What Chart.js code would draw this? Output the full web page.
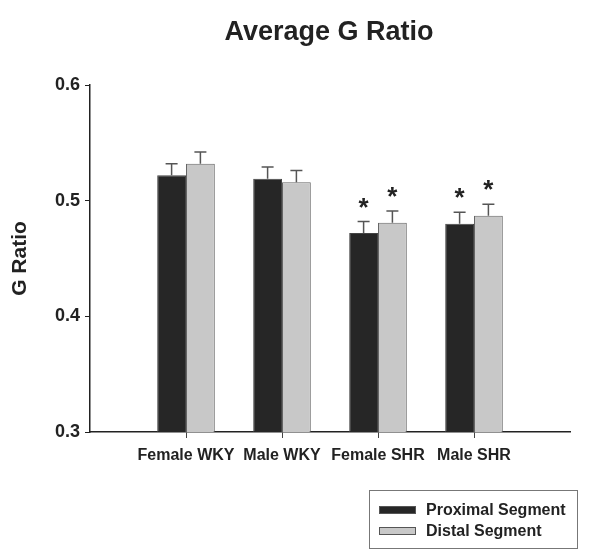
<!DOCTYPE html>
<html>
<head>
<meta charset="utf-8">
<script src="https://cdn.jsdelivr.net/npm/chart.js@4"></script>
<style>
  html, body { margin: 0; padding: 0; background: #fff; }
  #wrap { width: 600px; height: 554px; }
</style>
</head>
<body>
<div id="wrap"><canvas id="gChart" width="600" height="554"></canvas></div>
<script>
// Data
const groups = ["Female WKY", "Male WKY", "Female SHR", "Male SHR"];
const proximal = [0.522, 0.519, 0.472, 0.480];
const distal = [0.532, 0.516, 0.481, 0.487];
const proximalErr = [0.010, 0.010, 0.010, 0.010];
const distalErr = [0.010, 0.010, 0.010, 0.010];
const proximalSig = [false, false, true, true];
const distalSig = [false, false, true, true];
const yTicks = [0.3, 0.4, 0.5, 0.6];

const FONT = "'Liberation Sans', Arial, sans-serif";

// empty slots either side so the groups sit at 1..4 of a 0..5 axis
const labels = ["", ...groups, ""];
const pad = arr => [null, ...arr, null];

// error bars + asterisks + title + legend
const extras = {
  id: "extras",
  afterDatasetsDraw(chart) {
    const c = chart.ctx;
    const y = chart.scales.y;
    const errs = [proximalErr, distalErr];
    const sigs = [proximalSig, distalSig];
    c.save();
    chart.data.datasets.forEach((ds, di) => {
      const meta = chart.getDatasetMeta(di);
      groups.forEach((g, i) => {
        const bar = meta.data[i + 1];
        const val = ds.data[i + 1];
        const top = y.getPixelForValue(val + errs[di][i]);
        c.strokeStyle = "#555";
        c.lineWidth = 1.5;
        c.beginPath();
        c.moveTo(bar.x, bar.y);
        c.lineTo(bar.x, top);
        c.moveTo(bar.x - 6, top);
        c.lineTo(bar.x + 6, top);
        c.stroke();
        if (sigs[di][i]) {
          c.fillStyle = "#222";
          c.font = "bold 26px " + FONT;
          c.textAlign = "center";
          c.textBaseline = "middle";
          c.fillText("*", bar.x, top - 13);
        }
      });
    });
    c.restore();
  },
  afterDraw(chart) {
    const c = chart.ctx;
    c.save();
    c.fillStyle = "#222";
    c.font = "bold 27px " + FONT;
    c.textAlign = "center";
    c.textBaseline = "middle";
    c.fillText("Average G Ratio", 329, 33);

    // legend box
    c.strokeStyle = "#777";
    c.lineWidth = 1;
    c.strokeRect(369.5, 490.5, 208, 58);
    const items = [
      ["Proximal Segment", "#262626", 510],
      ["Distal Segment", "#c8c8c8", 531]
    ];
    c.font = "bold 16px " + FONT;
    c.textAlign = "left";
    items.forEach(([txt, col, yy]) => {
      c.fillStyle = col;
      c.fillRect(379, yy - 4, 37, 8);
      c.strokeStyle = "#555";
      c.strokeRect(379.5, yy - 3.5, 36, 7);
      c.fillStyle = "#222";
      c.fillText(txt, 426, yy + 1);
    });
    c.restore();
  }
};

new Chart(document.getElementById("gChart").getContext("2d"), {
  type: "bar",
  data: {
    labels: labels,
    datasets: [
      {
        label: "Proximal Segment",
        data: pad(proximal),
        backgroundColor: "#262626",
        borderColor: "#444",
        borderWidth: 1,
        categoryPercentage: 0.6,
        barPercentage: 1.0
      },
      {
        label: "Distal Segment",
        data: pad(distal),
        backgroundColor: "#c8c8c8",
        borderColor: "#666",
        borderWidth: 1,
        categoryPercentage: 0.6,
        barPercentage: 1.0
      }
    ]
  },
  options: {
    responsive: false,
    animation: false,
    layout: { padding: { left: 0, right: 30, top: 85, bottom: 82 } },
    plugins: {
      legend: { display: false },
      title: { display: false },
      tooltip: { enabled: false }
    },
    scales: {
      x: {
        type: "category",
        offset: false,
        afterFit(s) { s.height = 40; },
        grid: {
          offset: false,
          drawOnChartArea: false,
          drawTicks: true,
          tickLength: 6,
          color: ctx => (ctx.index === 0 || ctx.index === labels.length - 1) ? "rgba(0,0,0,0)" : "#444"
        },
        border: { display: true, color: "#222", width: 1.5 },
        ticks: {
          color: "#222",
          font: { family: FONT, size: 16, weight: "bold" },
          padding: 8,
          maxRotation: 0,
          autoSkip: false
        }
      },
      y: {
        min: 0.3,
        max: 0.6,
        afterFit(s) { s.width = 90; },
        afterBuildTicks(s) { s.ticks = yTicks.map(v => ({ value: v })); },
        grid: {
          drawOnChartArea: false,
          drawTicks: true,
          tickLength: 5,
          color: "#222"
        },
        border: { display: true, color: "#222", width: 1.5 },
        ticks: {
          color: "#222",
          font: { family: FONT, size: 18, weight: "bold" },
          padding: 5,
          callback: v => Number(v).toFixed(1)
        },
        title: {
          display: true,
          text: "G Ratio",
          color: "#222",
          font: { family: FONT, size: 21, weight: "bold" },
          padding: { top: 8, bottom: 14 }
        }
      }
    }
  },
  plugins: [extras]
});
</script>
</body>
</html>
